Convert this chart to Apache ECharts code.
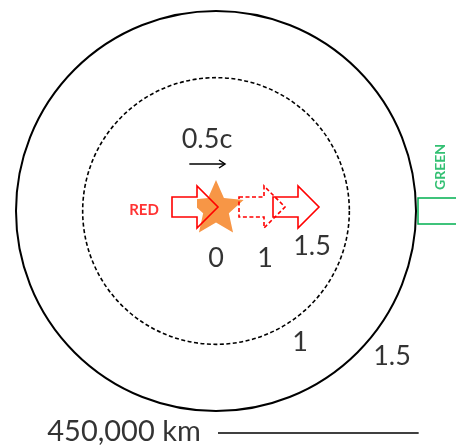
<!DOCTYPE html>
<html>
<head>
<meta charset="utf-8">
<script src="https://cdn.jsdelivr.net/npm/echarts@6/dist/echarts.min.js"></script>
<style>
  html, body { margin: 0; padding: 0; background: #fff; }
  #chart { width: 456px; height: 448px; }
</style>
</head>
<body>
<div id="chart"></div>
<script>
// units: light-travel distance, outer ring = 1.5
var ringRadius = [1, 1.5];
var ringDashed = [true, false];
var ringLabels = ["1", "1.5"];
var ringLabelX = [0.63, 1.32];
var ringLabelY = [-0.9825, -1.0875];

var arrowTips = [0.015, 0.5175, 0.7725];
var arrowY = 0.03;
var arrowDashed = [false, true, false];
var arrowLabels = ["0", "1", "1.5"];
var arrowLabelX = [0, 0.3675, 0.72];
var arrowLabelY = [-0.3525, -0.3525, -0.2625];

var starPos = [0, 0.015];
var velocityFrom = [-0.2, 0.3525];
var velocityTo = [0.0675, 0.3525];
var velocityLabel = "0.5c";
var greenTailX = 1.515;
var greenHalf = 0.0975;
var scaleBar = [[0.015, -1.665], [1.52, -1.665]];
var scaleLabel = "450,000 km";

var FONT = "Lato";
var chart = echarts.init(document.getElementById("chart"));

function ringItem(params, api) {
  var c = api.coord([0, 0]);
  var r = api.size([api.value(0), 0])[0];
  var dashed = api.value(1) === 1;
  return {
    type: "circle",
    shape: { cx: c[0], cy: c[1], r: r },
    style: {
      fill: null,
      stroke: "#000",
      lineWidth: dashed ? 1.6 : 2,
      lineDash: dashed ? [4, 2.5] : null
    }
  };
}

function arrowItem(params, api) {
  var tip = api.value(0), yc = api.value(1), dashed = api.value(2) === 1;
  var L = 0.345, HL = 0.1575, SH = 0.075, HH = 0.1575;
  var pts = [
    [tip - L, yc + SH], [tip - HL, yc + SH], [tip - HL, yc + HH], [tip, yc],
    [tip - HL, yc - HH], [tip - HL, yc - SH], [tip - L, yc - SH]
  ].map(function (p) { return api.coord(p); });
  var children = [];
  if (params.dataIndex === 0) {
    children.push({
      type: "polygon",
      shape: { points: pts.slice(0, 2).concat(pts.slice(5)) },
      style: { fill: "#fff" }
    });
  }
  children.push({
    type: "polygon",
    shape: { points: pts },
    style: { fill: null, stroke: "#ff0000", lineWidth: 1.6, lineDash: dashed ? [4, 2.5] : null }
  });
  return { type: "group", children: children };
}

function starItem(params, api) {
  var c = api.coord([api.value(0), api.value(1)]);
  var R = 29, r = 13.5, pts = [];
  for (var i = 0; i < 10; i++) {
    var a = -Math.PI / 2 + i * Math.PI / 5;
    var rr = i % 2 === 0 ? R : r;
    pts.push([c[0] + rr * Math.cos(a), c[1] + rr * Math.sin(a)]);
  }
  return { type: "polygon", shape: { points: pts }, style: { fill: "#f79646" } };
}

function velocityItem(params, api) {
  var a = api.coord([api.value(0), api.value(1)]);
  var b = api.coord([api.value(2), api.value(3)]);
  return {
    type: "group",
    children: [
      { type: "line", shape: { x1: a[0], y1: a[1], x2: b[0], y2: b[1] }, style: { stroke: "#000", lineWidth: 1.5 } },
      {
        type: "polyline",
        shape: { points: [[b[0] - 6, b[1] - 4], [b[0], b[1]], [b[0] - 6, b[1] + 4]] },
        style: { fill: null, stroke: "#000", lineWidth: 1.5 }
      }
    ]
  };
}

function greenItem(params, api) {
  var a = api.coord([api.value(0), api.value(1)]);
  var b = api.coord([api.value(0), -api.value(1)]);
  return {
    type: "polyline",
    shape: { points: [[460, a[1]], a, b, [460, b[1]]] },
    style: { fill: null, stroke: "#00b050", lineWidth: 1.5 }
  };
}

var textData = [];
ringLabels.forEach(function (t, i) {
  textData.push({ name: t, value: [ringLabelX[i], ringLabelY[i]] });
});
arrowLabels.forEach(function (t, i) {
  textData.push({ name: t, value: [arrowLabelX[i], arrowLabelY[i]] });
});
textData.push({ name: velocityLabel, value: [-0.0675, 0.54], label: { fontSize: 27 } });
textData.push({ name: scaleLabel, value: [-0.69, -1.6575], label: { fontSize: 29 } });
textData.push({
  name: "RED", value: [-0.54, 0.0075],
  label: { fontSize: 15, fontWeight: "bold", color: "#ff0000" }
});
textData.push({
  name: "GREEN", value: [1.68, 0.33],
  label: { fontSize: 14, fontWeight: "bold", color: "#00b050", rotate: 90 }
});

var option = {
  animation: false,
  grid: { left: 0, right: 0, top: 0, bottom: 0 },
  xAxis: { type: "value", min: -1.62, max: 1.8, show: false },
  yAxis: { type: "value", min: -1.7775, max: 1.5825, show: false },
  series: [
    {
      type: "custom", clip: false, renderItem: ringItem,
      data: ringRadius.map(function (r, i) { return [r, ringDashed[i] ? 1 : 0]; })
    },
    { type: "custom", clip: false, renderItem: starItem, data: [starPos] },
    {
      type: "custom", clip: false, renderItem: arrowItem,
      data: arrowTips.map(function (t, i) { return [t, arrowY, arrowDashed[i] ? 1 : 0]; })
    },
    {
      type: "custom", clip: false, renderItem: velocityItem,
      data: [[velocityFrom[0], velocityFrom[1], velocityTo[0], velocityTo[1]]]
    },
    { type: "custom", clip: false, renderItem: greenItem, data: [[greenTailX, greenHalf]] },
    {
      type: "line", data: scaleBar, symbol: "none",
      lineStyle: { color: "#000", width: 1.5 }
    },
    {
      type: "scatter", symbolSize: 0, data: textData,
      label: {
        show: true, position: "inside", formatter: "{b}",
        fontFamily: FONT, fontSize: 27, color: "#000"
      }
    }
  ]
};

chart.setOption(option);
</script>
</body>
</html>
